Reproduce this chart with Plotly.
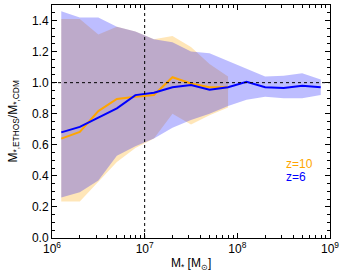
import plotly.graph_objects as go

# log10 stellar mass bin centres
logm_z6 = [6.1, 6.3, 6.5, 6.7, 6.9, 7.1, 7.3, 7.5, 7.7, 7.9, 8.1, 8.3, 8.5, 8.7, 8.9]
med_z6 = [0.68, 0.715, 0.775, 0.835, 0.92, 0.935, 0.97, 0.985, 0.955, 0.97, 1.005, 0.97, 0.965, 0.98, 0.97]
up_z6 = [1.46, 1.42, 1.42, 1.36, 1.33, 1.28, 1.26, 1.20, 1.19, 1.14, 1.09, 1.04, 1.045, 1.06, 1.02]
lo_z6 = [0.26, 0.295, 0.37, 0.53, 0.59, 0.64, 0.71, 0.76, 0.80, 0.85, 0.89, 0.91, 0.90, 0.90, 0.92]

logm_z10 = [6.1, 6.3, 6.5, 6.7, 6.9, 7.1, 7.3, 7.5, 7.7, 7.9]
med_z10 = [0.64, 0.683, 0.817, 0.895, 0.91, 0.92, 1.035, 0.995, 0.97, 0.97]
up_z10 = [1.41, 1.41, 1.31, 1.36, 1.33, 1.28, 1.30, 1.23, 1.12, 1.04]
lo_z10 = [0.235, 0.235, 0.36, 0.49, 0.58, 0.64, 0.80, 0.73, 0.79, 0.84]

xticks = [1e6, 1e7, 1e8, 1e9]
xticktext = ["10<sup>6</sup>", "10<sup>7</sup>", "10<sup>8</sup>", "10<sup>9</sup>"]

BLUE = "#0000ff"
ORANGE = "#ffa500"

def m(v):
    return [10 ** a for a in v]

fig = go.Figure()
fig.add_trace(go.Scatter(x=m(logm_z10) + m(logm_z10)[::-1], y=up_z10 + lo_z10[::-1],
                         fill="toself", fillcolor="rgba(255,165,0,0.28)", line=dict(width=0),
                         mode="lines", hoverinfo="skip", showlegend=False))
fig.add_trace(go.Scatter(x=m(logm_z6) + m(logm_z6)[::-1], y=up_z6 + lo_z6[::-1],
                         fill="toself", fillcolor="rgba(0,0,255,0.26)", line=dict(width=0),
                         mode="lines", hoverinfo="skip", showlegend=False))
fig.add_trace(go.Scatter(x=m(logm_z10), y=med_z10, mode="lines",
                         line=dict(color=ORANGE, width=2), showlegend=False))
fig.add_trace(go.Scatter(x=m(logm_z6), y=med_z6, mode="lines",
                         line=dict(color=BLUE, width=2), showlegend=False))

fig.add_shape(type="line", xref="x", yref="paper", x0=1e7, x1=1e7, y0=0, y1=1,
              line=dict(color="black", width=1, dash="dot"))
fig.add_shape(type="line", xref="paper", yref="y", x0=0, x1=1, y0=1.0, y1=1.0,
              line=dict(color="black", width=1, dash="dot"))

fig.add_annotation(x=0.835, y=0.317, xref="paper", yref="paper", text="z=10",
                   showarrow=False, xanchor="left", yanchor="middle",
                   font=dict(color=ORANGE, size=12))
fig.add_annotation(x=0.835, y=0.26, xref="paper", yref="paper", text="z=6",
                   showarrow=False, xanchor="left", yanchor="middle",
                   font=dict(color=BLUE, size=12))

# axis titles
fig.add_annotation(x=0.5, y=-0.07, xref="paper", yref="paper", yanchor="top",
                   text="M<sub>*</sub> [M<sub>⊙</sub>]", showarrow=False,
                   font=dict(size=12))
fig.add_annotation(x=-0.14, y=0.5, xref="paper", yref="paper", xanchor="center",
                   text="M<sub>*,ETHOS</sub>/M<sub>*,CDM</sub>", showarrow=False,
                   textangle=-90, font=dict(size=12))

axis_common = dict(showline=True, linecolor="black", linewidth=1, mirror="allticks",
                   ticks="inside", ticklen=5, tickcolor="black", showgrid=False,
                   zeroline=False, automargin=False, tickfont=dict(size=12, color="black"))

fig.update_xaxes(type="log", range=[6, 9], tickvals=xticks, ticktext=xticktext,
                 minor=dict(ticks="inside", ticklen=3, dtick="D1", tickcolor="black", showgrid=False),
                 **axis_common)
fig.update_yaxes(range=[0, 1.5], dtick=0.2, tick0=0, tickformat=".1f",
                 minor=dict(ticks="inside", ticklen=3, dtick=0.05, tickcolor="black", showgrid=False),
                 **axis_common)

fig.update_layout(width=344, height=275, margin=dict(l=52, r=14, t=5, b=37),
                  paper_bgcolor="white", plot_bgcolor="white",
                  font=dict(family="Liberation Sans, Arial, sans-serif", color="black"))

fig.write_html("out.html", config={"displayModeBar": False},
               post_script="document.body.style.margin='0';document.body.style.overflow='hidden';")
